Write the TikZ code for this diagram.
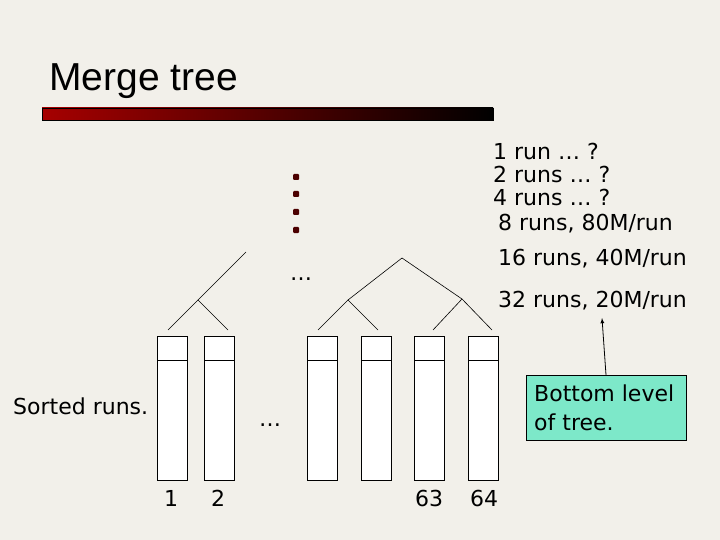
\documentclass[tikz,border=0pt]{standalone}
\usepackage{fontspec}
\setmainfont{DejaVu Sans}
\newfontfamily\headfont{Liberation Sans}
\begin{document}
\begin{tikzpicture}[x=1pt,y=-1pt,
  ln/.style={black,line width=0.6pt},
  cell/.style={draw=black,fill=white,line width=0.7pt},
  lbl/.style={anchor=west,inner sep=0pt,font=\fontsize{22}{22}\selectfont},
  num/.style={inner sep=0pt,font=\fontsize{22}{22}\selectfont},
  dot/.style={rectangle,rounded corners=1pt,fill=red!30!black,inner sep=0pt,minimum size=6pt}]
\definecolor{bg}{HTML}{F2F0EA}
\definecolor{boxg}{HTML}{7DE8C9}
\fill[bg] (0,0) rectangle (720,540);
\useasboundingbox (0,0) rectangle (720,540);
\node[anchor=west,inner sep=0pt,font=\headfont\fontsize{39}{39}\selectfont] (title) at (49,81) {Merge tree};
\shade[left color=red!65!black,right color=black] (42,108) rectangle (493,120);
\draw[black,line width=0.4pt] (42,108) rectangle (493,120);
% columns
\foreach \x/\n in {157/c1,204/c2,307/c3,361/c4,414/c5,468/c6}{
  \draw[cell] (\x,336) rectangle ++(30,144);
  \draw[cell] (\x,336) rectangle ++(30,24);
}
% tree
\coordinate (l1) at (168,330); \coordinate (l2) at (228,330);
\coordinate (lm) at (198,300); \coordinate (lt) at (246,252);
\draw[ln] (l1)--(lm)--(l2); \draw[ln] (lm)--(lt);
\coordinate (r1) at (318,330); \coordinate (r2) at (378,330);
\coordinate (r3) at (433,330); \coordinate (r4) at (492,330);
\coordinate (ra) at (348,300); \coordinate (rb) at (462,299);
\coordinate (rt) at (402,258);
\draw[ln] (r1)--(ra)--(r2); \draw[ln] (r3)--(rb)--(r4);
\draw[ln] (ra)--(rt)--(rb);
% dots
\foreach \y/\n in {177/d1,194/d2,212/d3,230/d4} \node[dot] (\n) at (296,\y) {};
\node[num] (el1) at (301,279) {\ldots};
\node[num] (el2) at (270,425) {\ldots};
% labels
\node[lbl] (t1) at (493,151) {1 run \ldots\ ?};
\node[lbl] (t2) at (493,174) {2 runs \ldots\ ?};
\node[lbl] (t3) at (493,197) {4 runs \ldots\ ?};
\node[lbl] (t4) at (498,224) {8 runs, 80M/run};
\node[lbl] (t5) at (498,259) {16 runs, 40M/run};
\node[lbl] (t6) at (498,301) {32 runs, 20M/run};
\node[lbl] (sr) at (13,406) {Sorted runs.};
\node[num] (n1) at (171,498) {1};
\node[num] (n2) at (218,498) {2};
\node[num] (n63) at (429,498) {63};
\node[num] (n64) at (484,498) {64};
\node[draw=black,fill=boxg,line width=0.6pt,minimum width=160pt,minimum height=65pt,anchor=north west,inner sep=0pt] (bx) at (526,375) {};
\node[anchor=west,align=left,inner sep=0pt,font=\fontsize{22}{29}\selectfont] (bt) at (534,408) {Bottom level\\of tree.};
\coordinate (at) at (602,318);
\draw[-latex,line width=0.8pt] (606,375) -- (at);
\end{tikzpicture}
\end{document}
